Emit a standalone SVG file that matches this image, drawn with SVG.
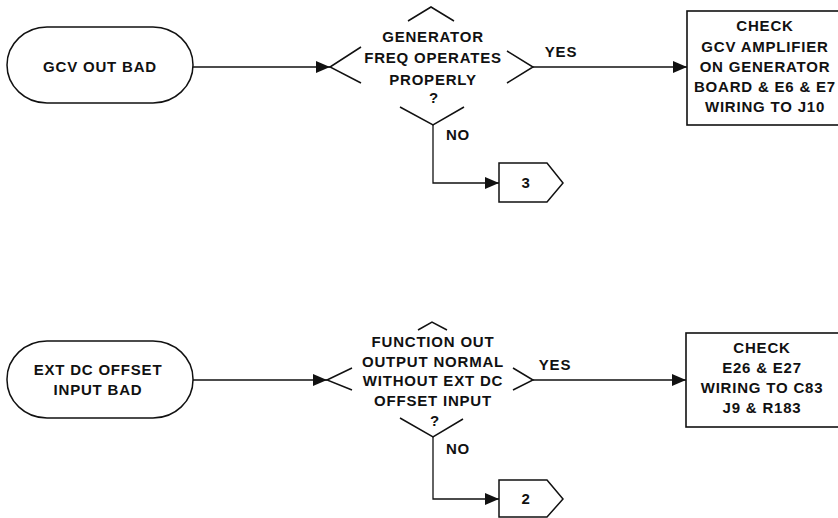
<svg xmlns="http://www.w3.org/2000/svg" width="838" height="518" viewBox="0 0 838 518">
<style>
  text { font-family: "Liberation Sans", Arial, sans-serif; font-size: 15px; font-weight: bold; fill: #111; letter-spacing: 0.8px; text-anchor: middle; }
  .shape { fill: none; stroke: #111; stroke-width: 1.5; }
  .wire { fill: none; stroke: #111; stroke-width: 1.3; }
  .box { fill: #fff; stroke: #111; stroke-width: 1.6; }
</style>
<defs>
  <marker id="arr" markerUnits="userSpaceOnUse" markerWidth="16" markerHeight="14" refX="14" refY="6" orient="auto">
    <path d="M0,0 L14,6 L0,12 Z" fill="#111"/>
  </marker>
</defs>
<rect width="838" height="518" fill="#fff"/>

<g id="connectors">
  <path class="wire" d="M193,67 L330,67" marker-end="url(#arr)"/>
  <path class="wire" d="M533,67 L687,67" marker-end="url(#arr)"/>
  <path class="wire" d="M433,125 L433,183 L499,183" marker-end="url(#arr)"/>
  <path class="wire" d="M193,380 L327,380" marker-end="url(#arr)"/>
  <path class="wire" d="M533,380 L686,380" marker-end="url(#arr)"/>
  <path class="wire" d="M433,437 L433,499 L499,499" marker-end="url(#arr)"/>
  <text x="561" y="57">YES</text>
  <text x="458" y="140">NO</text>
  <text x="555" y="370">YES</text>
  <text x="458" y="454">NO</text>
</g>

<g id="start1">
  <rect class="shape" x="7" y="27" width="186" height="76" rx="40" ry="38"/>
  <text x="100" y="72">GCV OUT BAD</text>
</g>

<g id="decision1">
  <path class="shape" d="M408,21 L431,7 L454,21"/>
  <path class="shape" d="M361,47 L330,67 L361,83"/>
  <path class="shape" d="M507,51 L533,67 L507,83"/>
  <path class="shape" d="M400,107 L433,125 L464,107"/>
  <text x="433" y="42">GENERATOR</text>
  <text x="433" y="63">FREQ OPERATES</text>
  <text x="433" y="85">PROPERLY</text>
  <text x="434" y="103">?</text>
</g>

<g id="action1">
  <rect class="box" x="687" y="11" width="162" height="114"/>
  <text x="765" y="31">CHECK</text>
  <text x="765" y="52">GCV AMPLIFIER</text>
  <text x="765" y="72">ON GENERATOR</text>
  <text x="765" y="92">BOARD &amp; E6 &amp; E7</text>
  <text x="765" y="112">WIRING TO J10</text>
</g>

<g id="offpage3">
  <path class="shape" d="M499,163 L547,163 L563,183 L547,202 L499,202 Z"/>
  <text x="526" y="188">3</text>
</g>

<g id="start2">
  <rect class="shape" x="7" y="341" width="186" height="77" rx="40" ry="38"/>
  <text x="98" y="375">EXT DC OFFSET</text>
  <text x="98" y="395">INPUT BAD</text>
</g>

<g id="decision2">
  <path class="shape" d="M418,330 L432,322 L447,330"/>
  <path class="shape" d="M352,368 L327,380 L352,390"/>
  <path class="shape" d="M513,368 L533,380 L513,390"/>
  <path class="shape" d="M400,418 L433,437 L463,419"/>
  <text x="433" y="347">FUNCTION OUT</text>
  <text x="433" y="367">OUTPUT NORMAL</text>
  <text x="433" y="386">WITHOUT EXT DC</text>
  <text x="433" y="406">OFFSET INPUT</text>
  <text x="435" y="426">?</text>
</g>

<g id="action2">
  <rect class="box" x="686" y="333" width="162" height="94"/>
  <text x="762" y="353">CHECK</text>
  <text x="762" y="373">E26 &amp; E27</text>
  <text x="762" y="393">WIRING TO C83</text>
  <text x="762" y="413">J9 &amp; R183</text>
</g>

<g id="offpage2">
  <path class="shape" d="M499,480 L547,480 L563,499 L547,517 L499,517 Z"/>
  <text x="526" y="504">2</text>
</g>
</svg>
